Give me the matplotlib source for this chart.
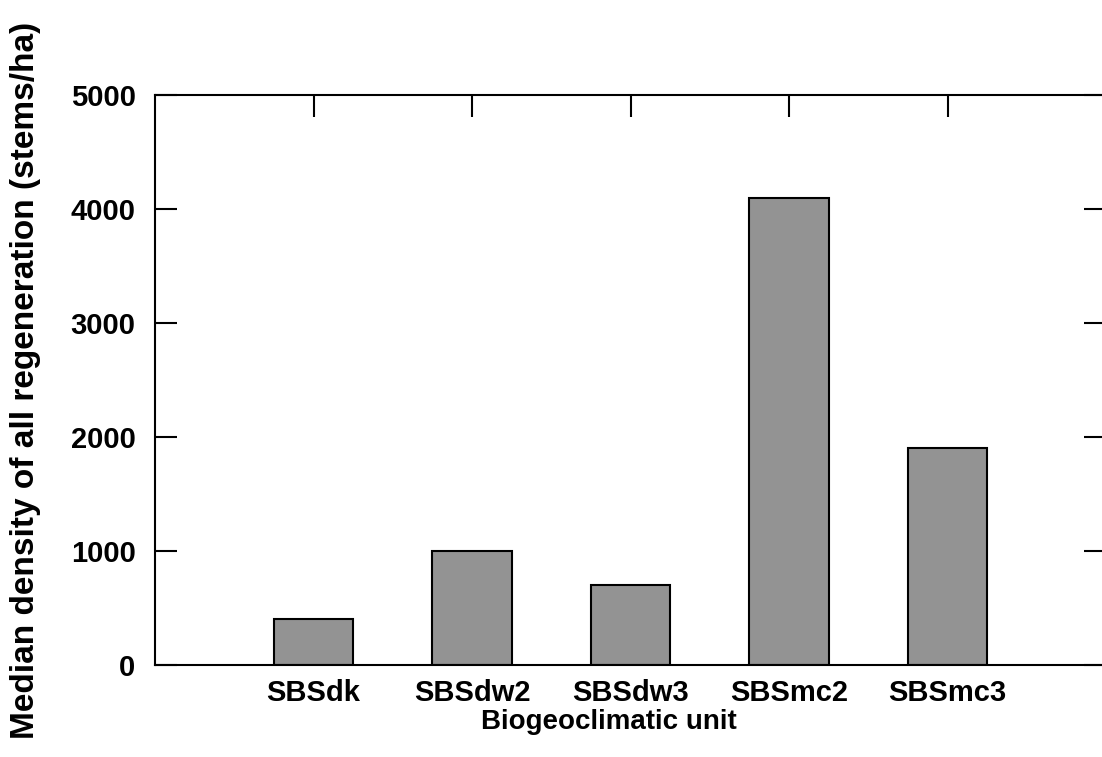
import matplotlib
matplotlib.use("Agg")
import matplotlib.pyplot as plt

# Median regeneration density by biogeoclimatic unit
units = ["SBSdk", "SBSdw2", "SBSdw3", "SBSmc2", "SBSmc3"]
density = [400, 1000, 700, 4100, 1900]
yticks = [0, 1000, 2000, 3000, 4000, 5000]

plt.rcParams["font.family"] = ["Liberation Sans", "DejaVu Sans"]
plt.rcParams["font.weight"] = "bold"

fig = plt.figure(figsize=(11.02, 7.57), dpi=100)
W, H = 1102, 757
x0, x1, y0, y1 = 155, 1106, 95, 665
ax = fig.add_axes([x0 / W, 1 - y1 / H, (x1 - x0) / W, (y1 - y0) / H])

pos = list(range(len(units)))
ax.bar(pos, density, width=0.5, color="#939393", edgecolor="black", linewidth=1.5, zorder=2)

ax.set_xlim(-1, len(units))
ax.set_ylim(0, 5000)
ax.set_yticks(yticks)
ax.set_yticklabels([str(v) for v in yticks], fontsize=21, fontweight="bold")
ax.set_xticks(pos)
ax.set_xticklabels(units, fontsize=21, fontweight="bold")

for s in ax.spines.values():
    s.set_linewidth(1.5)

ax.tick_params(axis="y", direction="in", length=16, width=1.5, left=True, right=True, pad=14)
ax.tick_params(axis="x", direction="in", length=16, width=1.5, bottom=False, top=True, pad=10)

ax.set_xlabel("Biogeoclimatic unit", fontsize=20, fontweight="bold")
ax.xaxis.set_label_coords((609 - x0) / (x1 - x0), -(709 - y1) / (y1 - y0))
ax.xaxis.label.set_verticalalignment("top")
ax.set_ylabel("Median density of all regeneration (stems/ha)", fontsize=24, fontweight="bold")
ax.yaxis.set_label_coords(-(x0 - 10) / (x1 - x0), 0.5)
ax.yaxis.label.set_verticalalignment("top")

fig.savefig("out.png", dpi=100)
